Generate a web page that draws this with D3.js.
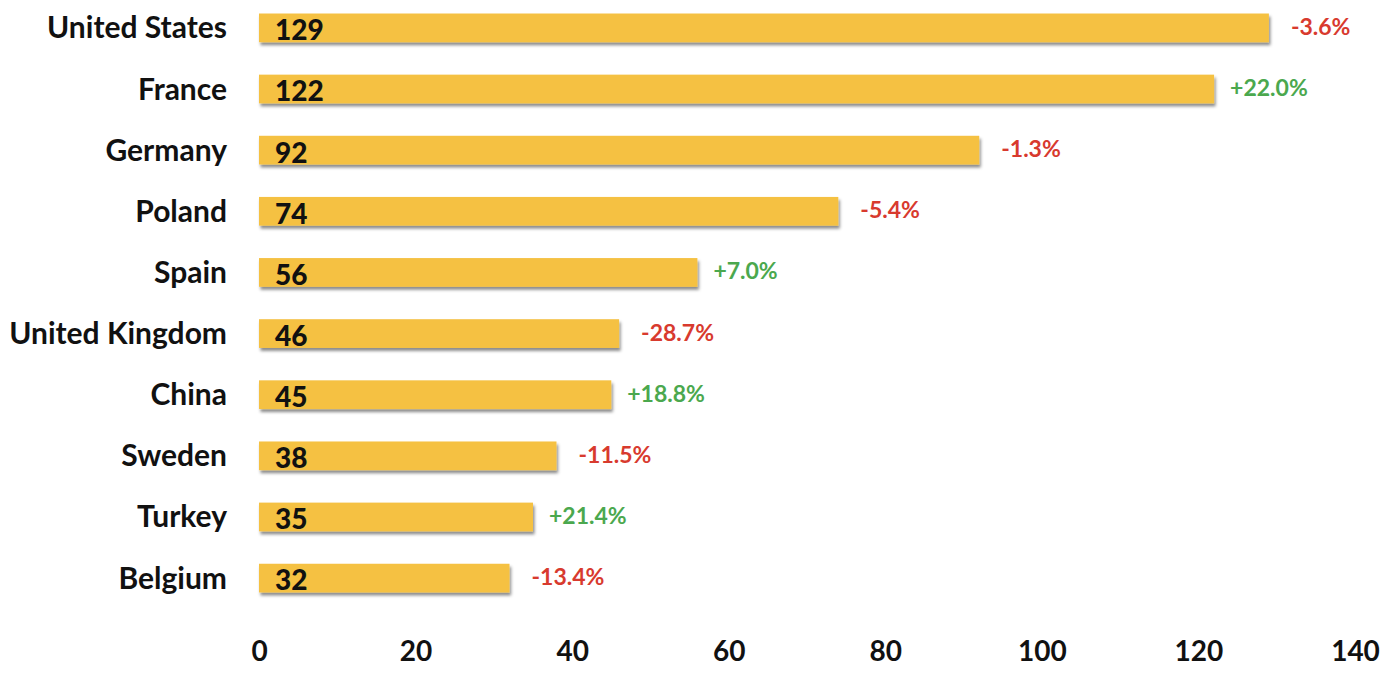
<!DOCTYPE html>
<html><head><meta charset="utf-8">
<script src="https://cdn.jsdelivr.net/npm/d3@7"></script>
<style>body{margin:0;background:#fff}svg{display:block}</style>
</head><body>
<svg id="c" width="1390" height="674"></svg>
<script>
const categories = ["United States","France","Germany","Poland","Spain","United Kingdom","China","Sweden","Turkey","Belgium"];
const values = [129,122,92,74,56,46,45,38,35,32];
const changes = ["-3.6%","+22.0%","-1.3%","-5.4%","+7.0%","-28.7%","+18.8%","-11.5%","+21.4%","-13.4%"];
const ticks = [0,20,40,60,80,100,120,140];

const svg = d3.select("#c");
const font = "Lato, 'Open Sans', sans-serif";
const defs = svg.append("defs");
const f = defs.append("filter").attr("id","sh").attr("x","-5%").attr("y","-30%").attr("width","110%").attr("height","180%");
f.append("feDropShadow").attr("dx",1.5).attr("dy",3).attr("stdDeviation",1.8).attr("flood-color","#000").attr("flood-opacity",0.45);

const x = d3.scaleLinear().domain([0,140]).range([259,1355]);
const y = d3.scaleBand().domain(categories).range([-3,609]).paddingInner(0.53).paddingOuter(0.27);

const g = svg.append("g");
g.selectAll("rect").data(categories).join("rect")
  .attr("x",x(0)).attr("y",d=>y(d)).attr("height",y.bandwidth())
  .attr("width",(d,i)=>x(values[i])-x(0))
  .attr("fill","#F5C142").attr("filter","url(#sh)");

g.selectAll(".val").data(categories).join("text")
  .attr("x",x(0)+16).attr("y",d=>y(d)+y.bandwidth()-2)
  .attr("font-family",font).attr("font-weight",900).attr("font-size",28).attr("fill","#111")
  .text((d,i)=>values[i]);

g.selectAll(".pct").data(categories).join("text")
  .attr("x",(d,i)=>x(values[i])+(changes[i][0]==="+"?16:22)).attr("y",d=>y(d)+y.bandwidth()/2+7)
  .attr("font-family",font).attr("font-weight",700).attr("font-size",23)
  .attr("fill",(d,i)=>changes[i][0]==="+"?"#4BA84E":"#D83A2E")
  .text((d,i)=>changes[i]);

const ya = d3.axisLeft(y).tickSize(0).tickPadding(0);
const yg = svg.append("g").attr("transform","translate(227,0)").call(ya);
yg.select(".domain").remove();
yg.selectAll("text").attr("font-family",font).attr("font-weight",700).attr("font-size",30).attr("fill","#111").attr("dy","0.35em");

const xa = d3.axisBottom(x).tickValues(ticks).tickSize(0).tickPadding(0);
const xg = svg.append("g").attr("transform","translate(0,641)").call(xa);
xg.select(".domain").remove();
xg.selectAll("text").attr("font-family",font).attr("font-weight",700).attr("font-size",28).attr("fill","#111").attr("dy","0.71em");
</script>
</body></html>
